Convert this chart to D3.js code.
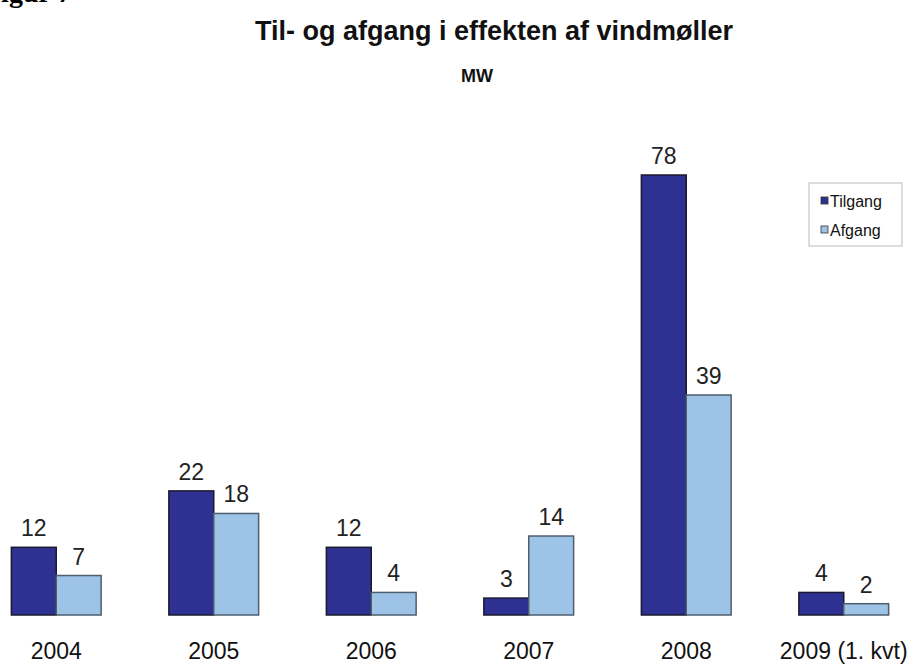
<!DOCTYPE html>
<html>
<head>
<meta charset="utf-8">
<script src="https://cdn.jsdelivr.net/npm/d3@7"></script>
<style>
  html, body { margin: 0; padding: 0; background: #fff; overflow: hidden; }
  svg { display: block; }
</style>
</head>
<body>
<svg id="chart" width="912" height="665"></svg>
<script>
/* ---------- data ---------- */
const years   = ['2004', '2005', '2006', '2007', '2008', '2009 (1. kvt)'];
const tilgang = [12, 22, 12, 3, 78, 4];
const afgang  = [7, 18, 4, 14, 39, 2];
const seriesNames = ['Tilgang', 'Afgang'];
const colors = ['#2e3192', '#9dc3e6'];
const strokes = ['#1a1a2e', '#4f5e6e'];

/* ---------- layout ---------- */
const baseY = 615;
const font = '"Liberation Sans", Arial, sans-serif';
const svg = d3.select('#chart');

const x0 = d3.scaleBand().domain(years).range([-22.5, 922.5]).paddingInner(0.43).paddingOuter(0.215);
const x1 = d3.scaleBand().domain(seriesNames).range([0, x0.bandwidth()]);
const y = d3.scaleLinear().domain([0, 78]).range([baseY, 175]);

const rows = years.map((yr, i) => ({ yr, vals: [tilgang[i], afgang[i]] }));

// figure caption (cut off at top, as in the scan)
svg.append('text')
  .attr('x', -16).attr('y', 2)
  .attr('font-family', '"Liberation Serif", "Times New Roman", serif')
  .attr('font-weight', 'bold').attr('font-size', 28)
  .text('Figur 7');

// title
svg.append('text')
  .attr('x', 494).attr('y', 40)
  .attr('text-anchor', 'middle')
  .attr('font-family', font)
  .attr('font-weight', 'bold').attr('font-size', 27)
  .attr('fill', '#111')
  .text('Til- og afgang i effekten af vindmøller');

svg.append('text')
  .attr('x', 477).attr('y', 82)
  .attr('text-anchor', 'middle')
  .attr('font-family', font)
  .attr('font-weight', 'bold').attr('font-size', 18)
  .attr('fill', '#111')
  .text('MW');

/* ---------- bars ---------- */
const g = svg.selectAll('g.grp').data(rows).join('g')
  .attr('class', 'grp')
  .attr('transform', d => `translate(${x0(d.yr)},0)`);

g.selectAll('rect').data(d => d.vals.map((v, j) => ({ v, s: seriesNames[j], j }))).join('rect')
  .attr('x', d => x1(d.s))
  .attr('y', d => y(d.v))
  .attr('width', x1.bandwidth())
  .attr('height', d => baseY - y(d.v))
  .attr('fill', d => colors[d.j])
  .attr('stroke', d => strokes[d.j])
  .attr('stroke-width', 1.5);

g.selectAll('text.val').data(d => d.vals.map((v, j) => ({ v, s: seriesNames[j] }))).join('text')
  .attr('class', 'val')
  .attr('x', d => x1(d.s) + x1.bandwidth() / 2)
  .attr('y', d => y(d.v) - 11)
  .attr('text-anchor', 'middle')
  .attr('font-family', font)
  .attr('font-size', 23)
  .attr('fill', '#222')
  .text(d => d.v);

// category labels
svg.selectAll('text.cat').data(years).join('text')
  .attr('class', 'cat')
  .attr('x', d => x0(d) + x0.bandwidth() / 2)
  .attr('y', 659)
  .attr('text-anchor', 'middle')
  .attr('font-family', font)
  .attr('font-size', 23)
  .attr('fill', '#111')
  .text(d => d);

/* ---------- legend ---------- */
const lg = svg.append('g').attr('transform', 'translate(809,183)');
lg.append('rect').attr('width', 93).attr('height', 63)
  .attr('fill', '#fff').attr('stroke', '#bbb').attr('stroke-width', 1);
seriesNames.forEach((s, i) => {
  const yy = 18 + i * 29;
  lg.append('rect').attr('x', 12).attr('y', yy - 4).attr('width', 7).attr('height', 7)
    .attr('fill', colors[i]).attr('stroke', '#333').attr('stroke-width', 0.8);
  lg.append('text').attr('x', 21).attr('y', yy + 6)
    .attr('font-family', font)
    .attr('font-size', 16).attr('fill', '#111')
    .text(s);
});
</script>
</body>
</html>
